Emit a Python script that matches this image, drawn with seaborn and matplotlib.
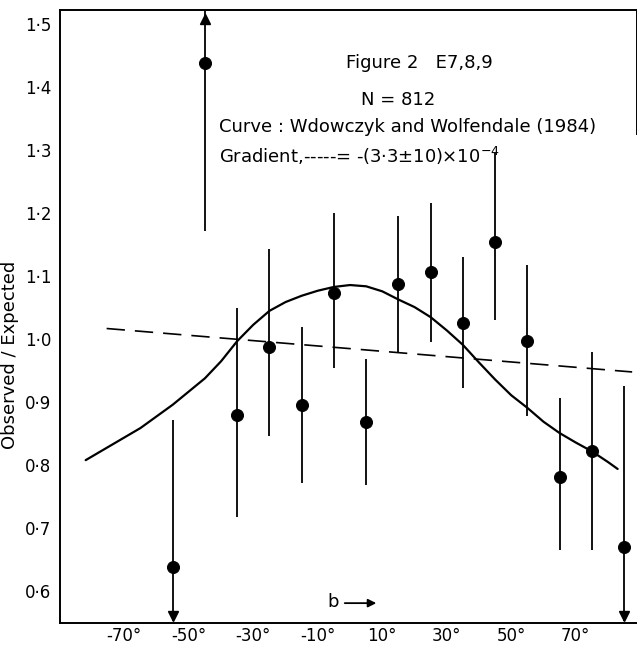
import numpy as np
import pandas as pd
import matplotlib
matplotlib.use("Agg")
import matplotlib.pyplot as plt
import seaborn as sns

# ---- data ----
b_deg = [-55, -45, -35, -25, -15, -5, 5, 15, 25, 35, 45, 55, 65, 75, 85]
ratio = [0.637, 1.437, 0.878, 0.986, 0.894, 1.073, 0.867, 1.087, 1.106, 1.024, 1.153, 0.996, 0.781, 0.821, 0.669]
err_low = [0.551, 1.171, 0.716, 0.846, 0.770, 0.954, 0.768, 0.978, 0.994, 0.922, 1.030, 0.877, 0.665, 0.665, 0.551]
err_high = [0.870, 1.520, 1.049, 1.143, 1.019, 1.200, 0.968, 1.194, 1.216, 1.130, 1.295, 1.117, 0.905, 0.978, 0.925]
arrow_down = [True, False, False, False, False, False, False, False, False, False, False, False, False, False, True]
arrow_up = [False, True, False, False, False, False, False, False, False, False, False, False, False, False, False]

curve_b = [-82, -75, -65, -55, -45, -40, -35, -30, -25, -20, -15, -10, -5, 0, 5, 10, 15, 20, 25,
           30, 35, 40, 45, 50, 55, 60, 65, 70, 75, 80, 83]
curve_r = [0.807, 0.828, 0.858, 0.895, 0.937, 0.964, 0.996, 1.022, 1.044, 1.058, 1.068, 1.076, 1.082,
           1.085, 1.083, 1.075, 1.062, 1.050, 1.034, 1.013, 0.990, 0.962, 0.935, 0.910, 0.890,
           0.868, 0.850, 0.835, 0.821, 0.804, 0.793]

grad_b = [-75.5, 87.5]
grad_r = [1.016, 0.947]

yticks = [0.6, 0.7, 0.8, 0.9, 1.0, 1.1, 1.2, 1.3, 1.4, 1.5]
ytick_labels = ["0·6", "0·7", "0·8", "0·9", "1·0", "1·1", "1·2", "1·3", "1·4", "1·5"]
xticks = [-70, -50, -30, -10, 10, 30, 50, 70]
xtick_labels = ["-70°", "-50°", "-30°", "-10°", "10°", "30°", "50°", "70°"]

# ---- plot ----
sns.set_theme(style="white")
plt.rcParams['font.family'] = ['DejaVu Sans']
plt.rcParams['text.color'] = 'black'
plt.rcParams['axes.labelcolor'] = 'black'
plt.rcParams['xtick.color'] = 'black'
plt.rcParams['ytick.color'] = 'black'

fig = plt.figure(figsize=(6.37, 6.52), dpi=100)
ax = fig.add_axes([0.094, 0.045, 0.906, 0.940])

pts = pd.DataFrame({"b": b_deg, "r": ratio})
crv = pd.DataFrame({"b": curve_b, "r": curve_r})
grd = pd.DataFrame({"b": grad_b, "r": grad_r})

sns.lineplot(data=crv, x="b", y="r", ax=ax, color="black", lw=1.6, sort=False)
sns.lineplot(data=grd, x="b", y="r", ax=ax, color="black", lw=1.2, dashes=False)
ax.lines[-1].set_dashes([11, 6])

ax.vlines(b_deg, err_low, err_high, color="black", lw=1.3)
sns.scatterplot(data=pts, x="b", y="r", ax=ax, color="black", s=75, edgecolor="black", zorder=5)

dn = [(b, lo) for b, lo, f in zip(b_deg, err_low, arrow_down) if f]
up = [(b, hi) for b, hi, f in zip(b_deg, err_high, arrow_up) if f]
for b, lo in dn:
    ax.plot([b], [lo + 0.008], marker="v", color="black", ms=7, clip_on=False, zorder=6)
for b, hi in up:
    ax.plot([b], [hi - 0.012], marker="^", color="black", ms=7, clip_on=False, zorder=6)

ax.set_xlim(-90, 89)
ax.set_ylim(0.549, 1.522)
ax.set_xticks(xticks)
ax.set_xticklabels(xtick_labels, fontsize=12)
ax.set_yticks(yticks)
ax.set_yticklabels(ytick_labels, fontsize=12)
ax.tick_params(axis="both", direction="in", length=7, width=1.2, colors="black")
ax.tick_params(axis="y", pad=6)
ax.tick_params(axis="x", pad=3)
ax.set_xlabel("")
ax.set_ylabel("Observed / Expected", fontsize=13)
ax.yaxis.set_label_coords(-0.071, 0.437)

for s in ["left", "bottom", "top", "right"]:
    ax.spines[s].set_color("black")
    ax.spines[s].set_linewidth(1.4)
ax.spines["right"].set_bounds(1.325, 1.522)

fs = 13
ax.text(21.5, 1.438, "Figure 2   E7,8,9", ha="center", va="center", fontsize=fs)
ax.text(14.9, 1.379, "N = 812", ha="center", va="center", fontsize=fs)
ax.text(-40.8, 1.336, "Curve : Wdowczyk and Wolfendale (1984)", ha="left", va="center", fontsize=fs)
ax.text(-40.8, 1.290, "Gradient,-----= -(3·3±10)×10$^{-4}$", ha="left", va="center", fontsize=fs)
ax.text(-5.4, 0.582, "b", ha="center", va="center", fontsize=fs)
ax.annotate("", xy=(9.0, 0.580), xytext=(-2.5, 0.580),
            arrowprops=dict(arrowstyle="-|>", color="black", lw=1.3, mutation_scale=12))

fig.savefig("out.png", dpi=100)
